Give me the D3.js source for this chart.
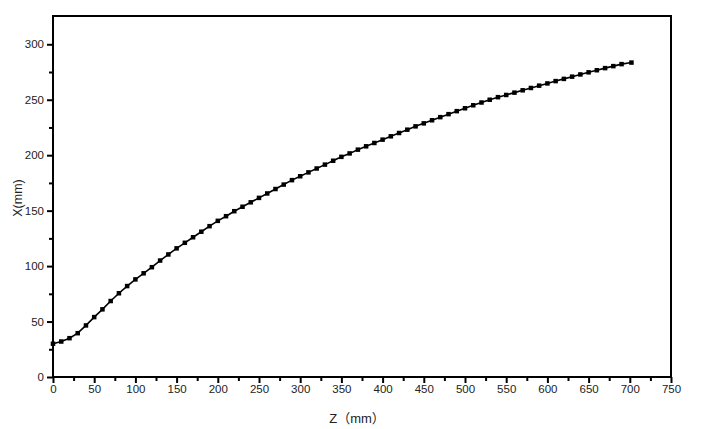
<!DOCTYPE html>
<html>
<head>
<meta charset="utf-8">
<script src="https://cdn.jsdelivr.net/npm/d3@7"></script>
<style>
  html, body { margin: 0; padding: 0; background: #fff; }
  svg { display: block; }
  .tick text { font-family: "Liberation Sans", Arial, sans-serif; font-size: 11.5px; fill: #222; }
</style>
</head>
<body>
<svg id="chart" width="706" height="429"></svg>
<script>
// ---- data ----
const zValues = [0, 10, 20, 30, 40, 50, 60, 70, 80, 90, 100, 110, 120, 130, 140, 150, 160, 170, 180, 190,
  200, 210, 220, 230, 240, 250, 260, 270, 280, 290, 300, 310, 320, 330, 340, 350, 360, 370, 380, 390,
  400, 410, 420, 430, 440, 450, 460, 470, 480, 490, 500, 510, 520, 530, 540, 550, 560, 570, 580, 590,
  600, 610, 620, 630, 640, 650, 660, 670, 680, 690, 702];
const xValues = [30, 32, 35, 39.5, 46.5, 54, 61, 68.5, 75.5, 82, 88, 93.5, 99, 105, 110.5, 116, 121, 126, 131, 136,
  140.8, 145, 149.5, 153.5, 157.5, 161.5, 165.5, 169.5, 173.5, 177.5, 181, 184.5, 188, 191.5, 195, 198.5, 201.6, 205, 208, 211,
  214, 217, 220, 223, 226, 228.7, 231.5, 234.3, 237, 239.7, 242.3, 245, 247.5, 250, 252.3, 254.3, 256.4, 258.5, 260.6, 262.7,
  264.7, 266.8, 268.8, 270.8, 272.8, 274.7, 276.6, 278.5, 280.3, 282.1, 283.5];
const xTicks = [0, 50, 100, 150, 200, 250, 300, 350, 400, 450, 500, 550, 600, 650, 700, 750];
const yTicks = [0, 50, 100, 150, 200, 250, 300];
const xLabel = "Z\uFF08mm\uFF09";
const yLabel = "X(mm)";

// ---- layout ----
const svg = d3.select("#chart");
const mLeft = 53, mRight = 671, mTop = 16, mBottom = 377;
const x = d3.scaleLinear().domain([0, 750]).range([mLeft, mRight]);
const y = d3.scaleLinear().domain([0, 325.5]).range([mBottom, mTop]);

const data = zValues.map((z, i) => ({ z, v: xValues[i] }));

// minor ticks
const xMinor = d3.range(25, 750, 50);
const yMinor = d3.range(25, 325, 50);

svg.append("g").attr("transform", `translate(0,${mBottom})`)
  .call(d3.axisBottom(x).tickValues(xMinor).tickSize(4).tickFormat(""))
  .call(g => g.select(".domain").remove())
  .call(g => g.selectAll("line").attr("stroke", "#000").attr("stroke-width", 2));
svg.append("g").attr("transform", `translate(${mLeft},0)`)
  .call(d3.axisLeft(y).tickValues(yMinor).tickSize(4).tickFormat(""))
  .call(g => g.select(".domain").remove())
  .call(g => g.selectAll("line").attr("stroke", "#000").attr("stroke-width", 2));

svg.append("g").attr("transform", `translate(0,${mBottom})`)
  .call(d3.axisBottom(x).tickValues(xTicks).tickSize(6).tickPadding(2).tickFormat(d3.format("d")))
  .call(g => g.select(".domain").remove())
  .call(g => g.selectAll("line").attr("stroke", "#000").attr("stroke-width", 2));
svg.append("g").attr("transform", `translate(${mLeft},0)`)
  .call(d3.axisLeft(y).tickValues(yTicks).tickSize(6).tickPadding(3).tickFormat(d3.format("d")))
  .call(g => g.select(".domain").remove())
  .call(g => g.selectAll("line").attr("stroke", "#000").attr("stroke-width", 2));

// frame
svg.append("rect")
  .attr("x", mLeft).attr("y", mTop)
  .attr("width", mRight - mLeft).attr("height", mBottom - mTop)
  .attr("fill", "none").attr("stroke", "#000").attr("stroke-width", 2);

// line
svg.append("path").datum(data)
  .attr("fill", "none").attr("stroke", "#000").attr("stroke-width", 1.6)
  .attr("d", d3.line().x(d => x(d.z)).y(d => y(d.v)));

// markers
svg.append("g").selectAll("rect").data(data).join("rect")
  .attr("x", d => x(d.z) - 2.25).attr("y", d => y(d.v) - 2.25)
  .attr("width", 4.5).attr("height", 4.5).attr("fill", "#000");

// axis titles
svg.append("text")
  .attr("x", 357).attr("y", 423)
  .attr("text-anchor", "middle")
  .attr("font-family", "'Liberation Sans', 'Noto Sans CJK SC', sans-serif")
  .attr("font-size", 13).attr("fill", "#222")
  .text(xLabel);
svg.append("text")
  .attr("transform", "translate(22,198) rotate(-90)")
  .attr("text-anchor", "middle")
  .attr("font-family", "'Liberation Sans', sans-serif")
  .attr("font-size", 12.5).attr("fill", "#222")
  .text(yLabel);
</script>
</body>
</html>
